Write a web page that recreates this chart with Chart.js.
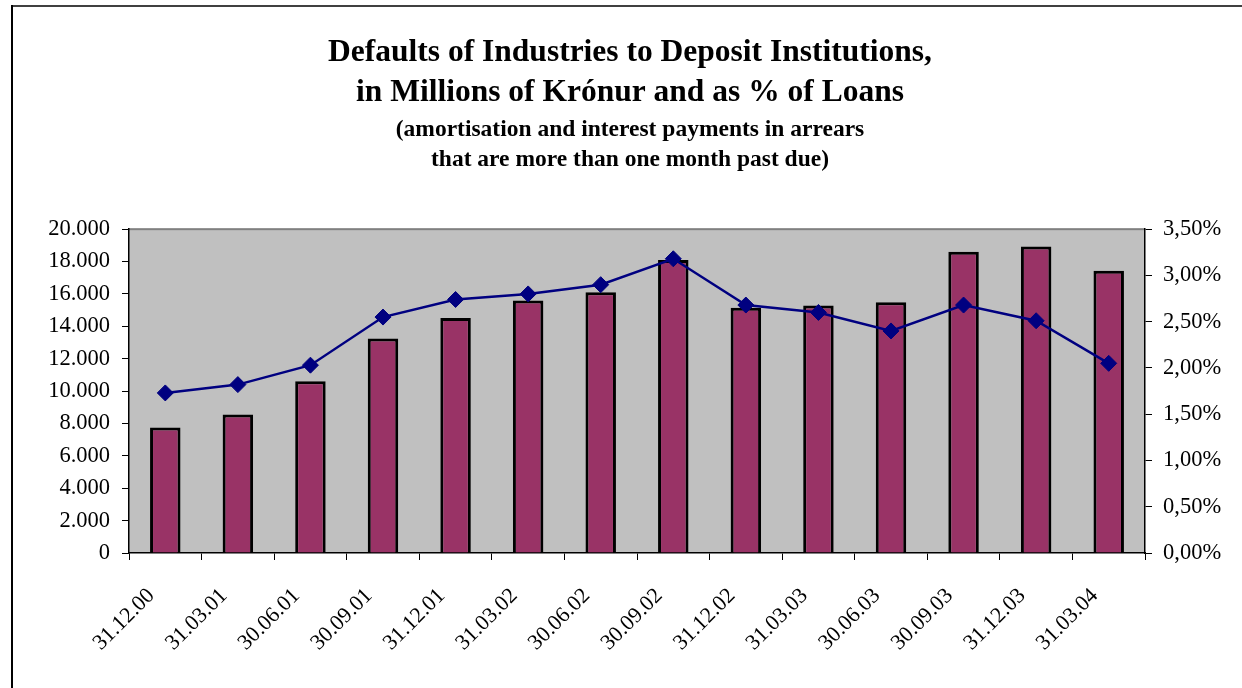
<!DOCTYPE html>
<html>
<head>
<meta charset="utf-8">
<script src="https://cdn.jsdelivr.net/npm/chart.js@4/dist/chart.umd.min.js"></script>
<style>
  html, body { margin: 0; padding: 0; background: #fff; }
  #wrap { width: 1242px; height: 688px; }
</style>
</head>
<body>
<div id="wrap"><canvas id="chart" width="1242" height="688"></canvas></div>
<script>
// dates (end of quarter)
const categories = ['31.12.00', '31.03.01', '30.06.01', '30.09.01', '31.12.01', '31.03.02', '30.06.02',
  '30.09.02', '31.12.02', '31.03.03', '30.06.03', '30.09.03', '31.12.03', '31.03.04'];

// defaults in millions of kronur (left axis)
const defaultsMkr = [7750, 8560, 10600, 13240, 14510, 15600, 16110, 18090, 15150, 15290, 15490, 18600, 18930, 17430];

// defaults as % of loans (right axis)
const defaultsPct = [1.73, 1.82, 2.03, 2.55, 2.74, 2.80, 2.90, 3.18, 2.68, 2.60, 2.40, 2.68, 2.51, 2.05];

const titleLines = ['Defaults of Industries to Deposit Institutions,', 'in Millions of Krónur and as % of Loans'];
const subtitleLines = ['(amortisation and interest payments in arrears', 'that are more than one month past due)'];

const FONT = "'Liberation Serif', 'Times New Roman', serif";

function thousands(v) {
  return String(v).replace(/\B(?=(\d{3})+(?!\d))/g, '.');
}

// background, frame and grey plot area
const framePlugin = {
  id: 'frame',
  beforeDraw(chart) {
    const c = chart.ctx;
    c.save();
    c.fillStyle = '#fff';
    c.fillRect(0, 0, chart.width, chart.height);
    c.fillStyle = '#404040';
    c.fillRect(11, 5, chart.width - 11, 2);
    c.fillStyle = '#000';
    c.fillRect(11, 5, 2, chart.height - 5);
    const a = chart.chartArea;
    c.fillStyle = '#c0c0c0';
    c.fillRect(a.left, a.top, a.right - a.left, a.bottom - a.top);
    c.fillStyle = '#808080';
    c.fillRect(a.left, a.top - 1, a.right - a.left, 2);
    c.restore();
  }
};

function renderChart() {
  const ctx = document.querySelector('#chart').getContext('2d');
  new Chart(ctx, {
    data: {
      labels: categories,
      datasets: [
        {
          type: 'line',
          label: '% of loans',
          data: defaultsPct,
          yAxisID: 'yPct',
          borderColor: '#000080',
          backgroundColor: '#000080',
          borderWidth: 2.5,
          pointStyle: 'rectRot',
          pointRadius: 8,
          pointBorderWidth: 1,
          tension: 0,
          order: 1
        },
        {
          type: 'bar',
          label: 'Millions of krónur',
          data: defaultsMkr,
          yAxisID: 'y',
          backgroundColor: '#993366',
          borderColor: '#000',
          borderWidth: 3,
          categoryPercentage: 1,
          barPercentage: 0.42,
          order: 2
        }
      ]
    },
    options: {
      responsive: false,
      animation: false,
      layout: { padding: { left: 18, right: 0, top: 0, bottom: 0 } },
      plugins: {
        legend: { display: false },
        tooltip: { enabled: false },
        title: {
          display: true,
          text: titleLines,
          color: '#000',
          font: { family: FONT, size: 31.5, weight: 'bold', lineHeight: 1.27 },
          padding: { top: 33, bottom: 2 }
        },
        subtitle: {
          display: true,
          text: subtitleLines,
          color: '#000',
          font: { family: FONT, size: 23.5, weight: 'bold', lineHeight: 1.28 },
          padding: { top: 0, bottom: 54 }
        }
      },
      scales: {
        x: {
          offset: true,
          grid: { offset: true, drawOnChartArea: false, color: '#000', tickLength: 7, tickWidth: 1 },
          border: { color: '#000', width: 1.5 },
          ticks: {
            color: '#000',
            font: { family: FONT, size: 22 },
            maxRotation: 45,
            minRotation: 45,
            padding: 23,
            labelOffset: -14
          },
          afterFit(scale) { scale.height = 135; }
        },
        y: {
          position: 'left',
          min: 0,
          max: 20000,
          grid: { drawOnChartArea: false, color: '#000', tickLength: 7 },
          border: { color: '#000', width: 1.5 },
          ticks: {
            stepSize: 2000,
            color: '#000',
            padding: 12,
            font: { family: FONT, size: 22.5 },
            callback: (v) => thousands(v)
          },
          afterFit(scale) { scale.width = 111; }
        },
        yPct: {
          position: 'right',
          min: 0,
          max: 3.5,
          grid: { drawOnChartArea: false, color: '#000', tickLength: 7 },
          border: { color: '#000', width: 1.5 },
          ticks: {
            stepSize: 0.5,
            color: '#000',
            padding: 11,
            font: { family: FONT, size: 22.5 },
            callback: (v) => v.toFixed(2).replace('.', ',') + '%'
          },
          afterFit(scale) { scale.width = 97; }
        }
      }
    },
    plugins: [framePlugin]
  });
}
renderChart();
</script>
</body>
</html>
